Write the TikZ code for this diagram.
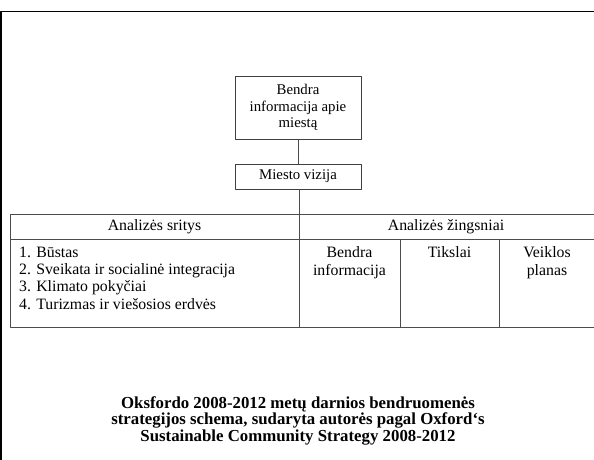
\documentclass[tikz,border=0pt]{standalone}
\usepackage{fontspec}
\setmainfont{Liberation Serif}
\usetikzlibrary{positioning}
\begin{document}
\begin{tikzpicture}[x=1pt,y=-1pt, font=\fontsize{15.8}{17.4}\selectfont, line join=round]
	\tikzset{langas/.style={draw=black!75, line width=0.9pt, align=center, inner sep=0pt, minimum width=126pt, font=\fontsize{14.8}{16.8}\selectfont},
		jungtis/.style={draw=black!70, line width=0.8pt}}
	\def\xk{10} \def\xv{299} \def\xa{400} \def\xb{499} \def\xd{600} % stulpeliai
	\def\yv{214} \def\yh{239} \def\ya{327} % eilutės
	\useasboundingbox (0,0) rectangle (594,459);
	% rėmelis
	\draw[line width=1.8pt] (1.2,470) -- (1.2,11.5) -- (600,11.5);
	\node[langas, minimum height=63pt] (info) at (298,107.5) {Bendra\\informacija apie\\miestą};
	\node[langas, minimum height=25pt] (vizija) at (298,176.5) {Miesto vizija};
	\coordinate (lentele) at (\xv,\yv);
	\draw[jungtis] (info) -- (vizija);
	\draw[jungtis] (vizija.south -| lentele) -- (lentele);
	% lentelė
	\draw[jungtis] (\xd,\yv) -- (\xk,\yv) -- (\xk,\ya) -- (\xd,\ya);
	\draw[jungtis] (\xk,\yh) -- (\xd,\yh);
	\draw[jungtis] (\xv,\yv) -- (\xv,\ya);
	\draw[jungtis] (\xa,\yh) -- (\xa,\ya);
	\draw[jungtis] (\xb,\yh) -- (\xb,\ya);
	\node (sritys) at ({(\xk+\xv)/2},226.5) {Analizės sritys};
	\node (zingsniai) at (446,226.5) {Analizės žingsniai};
	\node[anchor=north west, align=left, inner sep=0pt] (sarasas) at (19,246.5) {1. Būstas\\2. Sveikata ir socialinė integracija\\3. Klimato pokyčiai\\4. Turizmas ir viešosios erdvės};
	\node[anchor=north, align=center, inner sep=0pt] (bendra) at ({(\xv+\xa)/2},246.5) {Bendra\\informacija};
	\node[anchor=north, align=center, inner sep=0pt] (tikslai) at ({(\xa+\xb)/2},246.5) {Tikslai};
	\node[anchor=north, align=center, inner sep=0pt] (planas) at (547,246.5) {Veiklos\\planas};
	% pavadinimas
	\node[align=center, font=\bfseries\fontsize{16.8}{16.5}\selectfont] (pavadinimas) at (298,420.5) {Oksfordo 2008-2012 metų darnios bendruomenės\\strategijos schema, sudaryta autorės pagal Oxford‘s\\Sustainable Community Strategy 2008-2012};
\end{tikzpicture}
\end{document}
